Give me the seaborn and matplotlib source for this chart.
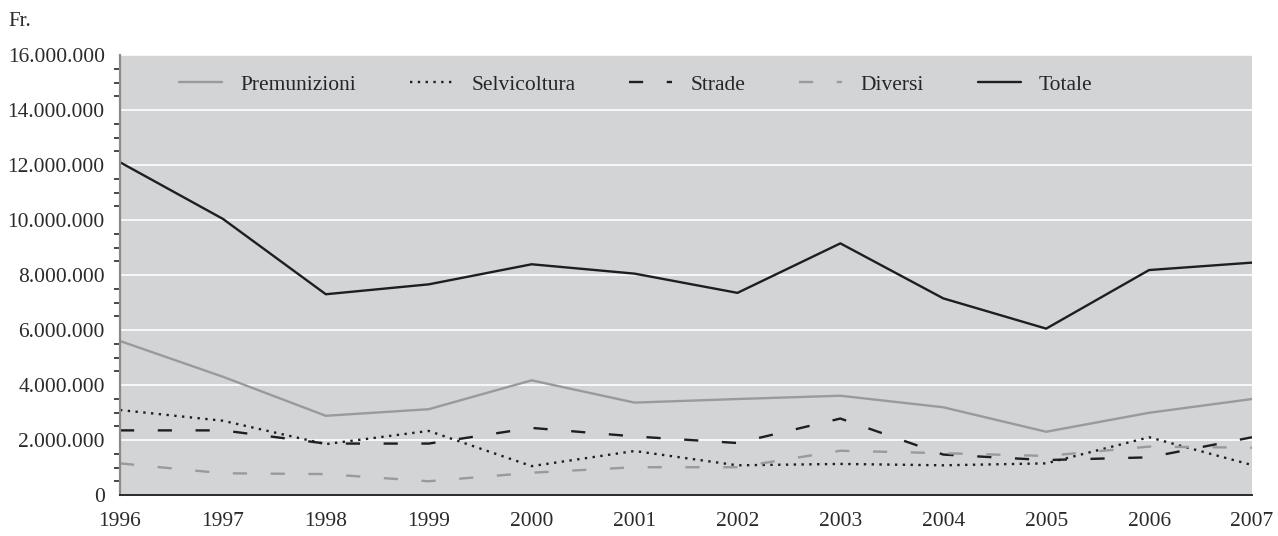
import matplotlib
matplotlib.use("Agg")
import matplotlib.pyplot as plt
from matplotlib.ticker import FuncFormatter, MultipleLocator
import pandas as pd
import seaborn as sns

# Annual expenditure by category (Fr.)
years = [1996, 1997, 1998, 1999, 2000, 2001, 2002, 2003, 2004, 2005, 2006, 2007]
premunizioni = [5600000, 4300000, 2880000, 3120000, 4170000, 3360000, 3490000, 3610000, 3190000, 2300000, 2990000, 3490000]
selvicoltura = [3090000, 2700000, 1850000, 2330000, 1050000, 1600000, 1080000, 1130000, 1080000, 1150000, 2100000, 1090000]
strade = [2350000, 2350000, 1870000, 1870000, 2440000, 2130000, 1890000, 2780000, 1470000, 1270000, 1370000, 2100000]
diversi = [1150000, 790000, 760000, 500000, 810000, 1010000, 1010000, 1610000, 1520000, 1420000, 1760000, 1720000]
totale = [12100000, 10040000, 7300000, 7660000, 8390000, 8050000, 7350000, 9150000, 7150000, 6050000, 8180000, 8450000]

series_names = ["Premunizioni", "Selvicoltura", "Strade", "Diversi", "Totale"]
series_values = [premunizioni, selvicoltura, strade, diversi, totale]

rows = []
for name, vals in zip(series_names, series_values):
    for y, v in zip(years, vals):
        rows.append({"Anno": y, "Fr": v, "Voce": name})
df = pd.DataFrame(rows)

sns.set_theme(style="white")
plt.rcParams["font.family"] = ["Liberation Serif", "DejaVu Serif"]

palette = {
    "Premunizioni": "#9a9a9a",
    "Selvicoltura": "#1e1e1e",
    "Strade": "#1e1e1e",
    "Diversi": "#9a9a9a",
    "Totale": "#1e1e1e",
}
dashes = {
    "Premunizioni": "",
    "Selvicoltura": (1, 2.3),
    "Strade": (6, 10),
    "Diversi": (6, 10),
    "Totale": "",
}

fig = plt.figure(figsize=(12.78, 5.36), dpi=100)
ax = fig.add_axes([120 / 1278, 1 - 495 / 536, (1252 - 120) / 1278, (495 - 55) / 536])
ax.set_facecolor("#d3d4d6")

sns.lineplot(data=df, x="Anno", y="Fr", hue="Voce", style="Voce",
             hue_order=series_names, style_order=series_names,
             palette=palette, dashes=dashes, linewidth=1.7, ax=ax)

ax.set_xlim(1996, 2007)
ax.set_ylim(0, 16000000)
ax.set_xticks(years)
ax.set_xticklabels([str(y) for y in years])
ax.yaxis.set_major_locator(MultipleLocator(2000000))
ax.yaxis.set_minor_locator(MultipleLocator(500000))
ax.yaxis.set_major_formatter(FuncFormatter(lambda v, p: f"{int(v):,}".replace(",", ".")))
ax.set_xlabel("")
ax.set_ylabel("")

ax.grid(axis="y", which="major", color="white", linewidth=1.2)
ax.set_axisbelow(True)

for s in ("top", "right"):
    ax.spines[s].set_visible(False)
ax.spines["left"].set_color("#8a8a8a")
ax.spines["left"].set_linewidth(1.6)
ax.spines["bottom"].set_color("#2a2a2a")
ax.spines["bottom"].set_linewidth(1.4)

ax.tick_params(axis="both", which="major", labelsize=15.5, colors="#2a2a2a",
               length=8, width=1.2, direction="out")
ax.tick_params(axis="y", which="minor", length=4.5, width=1.2, color="#2a2a2a",
               direction="out", left=True)
ax.tick_params(axis="x", which="major", pad=4)
ax.tick_params(axis="y", which="major", pad=3)

handles, labels = ax.get_legend_handles_labels()
ax.legend(handles, labels, loc="upper left", bbox_to_anchor=(0.052, 0.955),
          ncol=5, frameon=False, fontsize=15.5, handlelength=2.0,
          handletextpad=0.85, columnspacing=2.5, borderaxespad=0, borderpad=0)

fig.text(8 / 1278, 1 - 21 / 536, "Fr.", fontsize=15, color="#2a2a2a", va="center")

fig.savefig("out.png", dpi=100)
